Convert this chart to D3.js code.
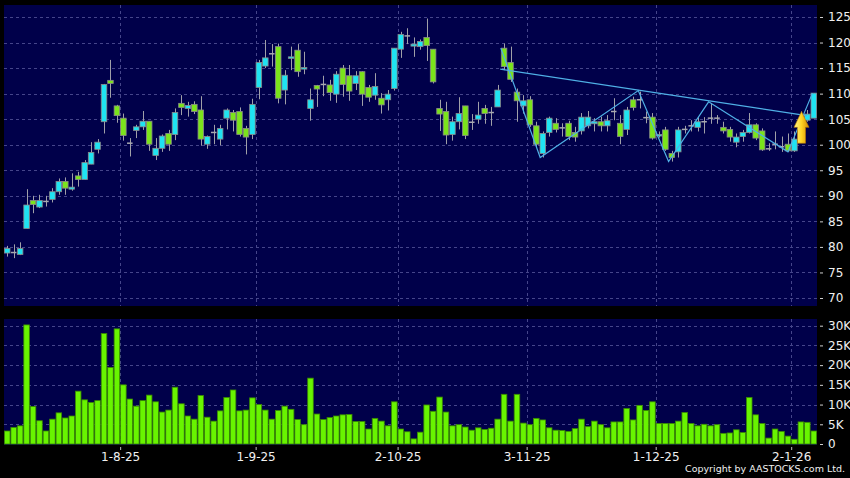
<!DOCTYPE html>
<html>
<head>
<meta charset="utf-8">
<script src="https://cdn.jsdelivr.net/npm/d3@7"></script>
<style>
  html, body { margin: 0; padding: 0; background: #000; }
  svg { display: block; font-family: 'DejaVu Sans', Verdana, sans-serif; }
</style>
</head>
<body>
<div id="chart"></div>
<script>
// daily OHLC, one entry per trading day
const open = [78.8, 78.9, 78.5, 83.6, 89.1, 87.8, 88.9, 89.3, 90.8, 92.8,
  91.3, 93.9, 93.2, 96.2, 99.1, 104.5, 112.6, 107.6, 105.2, 100.3,
  102.8, 103.5, 104.6, 97.9, 99.3, 102.2, 102.0, 108.1, 107.1, 107.9,
  106.8, 100.1, 102.4, 101.1, 105.2, 106.3, 106.5, 103.2, 102.0, 111.2,
  115.4, 117.8, 119.2, 110.7, 117.0, 118.5, 114.8, 107.1, 111.6, 111.8,
  111.7, 109.9, 115.0, 113.5, 112.0, 114.3, 111.2, 109.7, 109.1, 108.8,
  111.0, 118.7, 121.3, 119.3, 119.2, 121.0, 118.7, 107.1, 106.5, 102.0,
  104.5, 107.6, 104.4, 105.0, 107.1, 106.3, 107.4, 118.9, 116.1, 110.3,
  107.6, 108.8, 103.7, 98.3, 102.4, 104.2, 103.3, 104.2, 102.4, 102.7,
  103.7, 104.1, 104.5, 103.7, 106.5, 104.2, 103.0, 108.8, 108.8, 105.3,
  105.4, 101.8, 102.9, 98.3, 98.6, 103.0, 103.7, 103.4, 104.5, 105.2,
  105.2, 103.4, 103.0, 100.5, 101.6, 102.4, 103.9, 102.7, 99.2, 100.1,
  99.6, 100.1, 98.8, 101.0, 104.8, 105.2];
const high = [80.2, 80.5, 80.9, 91.3, 90.0, 90.2, 90.0, 91.5, 93.4, 93.6,
  94.4, 94.7, 97.0, 100.5, 101.1, 111.9, 116.6, 107.8, 106.1, 101.3,
  103.9, 106.6, 104.6, 101.3, 102.0, 102.9, 107.1, 109.7, 108.4, 108.5,
  109.5, 101.8, 103.9, 103.9, 107.1, 106.8, 107.3, 103.7, 109.0, 116.6,
  120.5, 119.7, 119.8, 114.6, 119.2, 119.7, 118.2, 111.0, 111.7, 113.5,
  112.7, 114.4, 115.6, 115.6, 114.4, 114.4, 111.7, 114.0, 110.1, 110.7,
  118.9, 122.1, 122.8, 121.0, 120.6, 124.7, 118.7, 108.8, 108.4, 105.5,
  109.3, 107.6, 106.0, 108.4, 107.8, 107.4, 111.7, 119.8, 119.2, 111.0,
  109.7, 109.5, 104.5, 102.6, 105.5, 105.2, 104.2, 104.7, 103.5, 106.2,
  106.6, 105.2, 105.5, 105.8, 109.1, 105.8, 107.4, 109.4, 110.4, 106.5,
  106.2, 102.6, 103.5, 98.8, 103.5, 103.7, 104.8, 105.4, 105.4, 108.1,
  105.8, 104.5, 103.5, 102.2, 102.9, 106.2, 104.2, 103.2, 100.3, 102.6,
  101.6, 102.2, 102.6, 106.5, 106.8, 110.1];
const low = [78.1, 77.8, 78.4, 83.6, 86.6, 87.6, 87.9, 88.7, 90.2, 90.2,
  91.0, 91.8, 93.2, 96.2, 98.3, 102.2, 109.2, 104.3, 100.8, 97.7,
  101.3, 102.9, 98.8, 97.0, 98.6, 98.8, 100.9, 105.8, 105.5, 106.0,
  99.8, 99.2, 100.1, 99.9, 103.0, 102.6, 101.6, 98.1, 101.1, 108.9,
  115.0, 115.3, 108.1, 107.9, 114.6, 113.3, 113.8, 104.7, 107.4, 109.5,
  108.6, 108.2, 109.4, 108.6, 110.7, 107.6, 108.4, 108.8, 106.1, 106.7,
  110.6, 117.0, 119.7, 117.2, 118.6, 116.4, 112.0, 102.7, 100.1, 100.8,
  103.0, 101.1, 102.9, 104.1, 104.1, 103.7, 107.4, 114.6, 112.3, 104.5,
  106.1, 103.5, 99.5, 97.5, 101.6, 102.4, 101.6, 100.9, 100.6, 102.0,
  103.2, 102.6, 102.6, 102.6, 104.8, 100.1, 101.9, 106.7, 107.1, 104.2,
  101.0, 101.4, 98.8, 96.7, 97.5, 102.2, 102.6, 102.6, 102.2, 104.1,
  104.1, 102.2, 100.6, 99.5, 100.6, 102.2, 100.9, 98.8, 98.8, 99.1,
  98.6, 98.6, 98.6, 100.5, 104.5, 105.2];
const close = [79.7, 78.9, 79.7, 88.2, 88.3, 89.1, 88.9, 90.8, 92.8, 91.5,
  91.7, 93.2, 96.5, 98.5, 100.5, 111.8, 112.0, 105.7, 101.8, 100.3,
  103.5, 104.6, 100.1, 99.3, 101.7, 100.1, 106.3, 107.3, 107.7, 106.5,
  101.1, 101.6, 102.4, 103.2, 106.8, 104.8, 102.0, 101.5, 107.9, 116.1,
  117.0, 117.8, 109.1, 113.6, 117.2, 114.3, 115.1, 108.8, 110.9, 111.8,
  110.2, 113.8, 111.8, 110.5, 113.5, 109.9, 109.3, 111.4, 107.8, 109.9,
  118.9, 121.6, 121.3, 119.7, 120.2, 119.4, 112.3, 106.0, 101.9, 104.5,
  106.1, 101.8, 104.4, 105.8, 106.1, 106.3, 110.7, 115.3, 112.8, 108.6,
  108.6, 103.9, 100.1, 102.2, 105.2, 103.0, 103.3, 101.6, 101.5, 105.4,
  105.4, 104.5, 103.7, 104.7, 106.5, 101.6, 106.8, 107.3, 108.8, 105.3,
  101.3, 102.0, 99.1, 97.5, 102.9, 103.0, 103.7, 104.5, 104.5, 105.2,
  105.2, 102.7, 101.5, 101.5, 102.4, 103.9, 101.3, 99.0, 99.2, 100.1,
  99.6, 98.8, 101.1, 104.6, 106.0, 110.1];
// volume in thousands
const volume = [3.3, 4.2, 4.6, 30.2, 9.5, 5.9, 3.3, 6.3, 7.9, 6.6,
  7.1, 13.4, 11.2, 10.5, 11.0, 28.0, 19.4, 29.2, 15.0, 11.4,
  9.6, 11.0, 12.4, 10.7, 8.1, 8.6, 14.4, 10.2, 7.1, 6.3,
  12.3, 6.8, 5.8, 8.4, 11.8, 13.7, 8.4, 8.6, 11.7, 10.0,
  8.6, 6.3, 8.5, 9.6, 8.8, 6.2, 4.9, 16.7, 7.6, 6.2,
  6.7, 7.1, 7.4, 7.5, 5.7, 5.7, 3.8, 6.5, 5.8, 4.6,
  10.7, 3.8, 3.1, 1.3, 3.0, 9.9, 8.3, 11.9, 8.1, 4.6,
  4.9, 4.3, 3.5, 4.1, 3.7, 4.0, 6.3, 12.6, 5.8, 12.6,
  5.3, 4.9, 6.5, 6.1, 4.1, 3.5, 3.4, 3.2, 3.9, 6.3,
  4.4, 5.8, 4.9, 4.1, 5.6, 5.6, 9.0, 6.1, 9.8, 8.5,
  10.7, 5.2, 5.2, 5.2, 5.8, 8.0, 5.2, 4.6, 5.0, 4.6,
  4.9, 2.7, 2.8, 3.6, 2.9, 11.8, 7.4, 5.2, 1.5, 3.8,
  3.2, 2.0, 1.2, 5.6, 5.5, 3.3];

// month-start labels and the bar they sit on
const dateTicks = [18, 39, 61, 81, 101, 122];
const dateLabels = ['1-8-25', '1-9-25', '2-10-25', '3-11-25', '1-12-25', '2-1-26'];
const priceTicks = [70, 75, 80, 85, 90, 95, 100, 105, 110, 115, 120, 125];
const volumeTicks = [0, 5, 10, 15, 20, 25, 30];

// drawn pattern lines: [bar index, price]
const trendLine = [[76.4, 114.8], [123.9, 105.7]];
const zigzag = [[76.5, 118.9], [82.6, 97.5], [97.8, 110.6], [102.5, 96.7],
  [108.7, 108.4], [121.0, 98.6], [124.8, 110.1]];
const signalArrow = { bar: 123.1, from: 100.3, to: 106.5 };

const W = 850, H = 478;
const left = 4, right = 817;
const pricePanel = { top: 5, bottom: 306 };
const volPanel = { top: 319, bottom: 445 };

const UP = '#1fe3f2', DOWN = '#7be41b', WICK = '#a0a0a8';
const GRID = '#45458a', NAVY = '#00004a';

const svg = d3
  .select('#chart')
  .append('svg')
  .attr('width', W)
  .attr('height', H);

svg.append('rect').attr('width', W).attr('height', H).attr('fill', '#000');

const n = close.length;
const x = d3.scaleLinear().domain([-0.5, n - 0.5]).range([left, right]);
const step = x(1) - x(0);
const bodyW = step * 0.86;

const yPrice = d3.scaleLinear().domain([70, 125]).range([298, 17]);
const yVol = d3.scaleLinear().domain([0, 30]).range([444, 325.7]);

// panels
[pricePanel, volPanel].forEach((p) => {
  svg
    .append('rect')
    .attr('x', left)
    .attr('y', p.top)
    .attr('width', right - left)
    .attr('height', p.bottom - p.top)
    .attr('fill', NAVY);
});

// grid lines
const grid = svg.append('g').attr('stroke', GRID).attr('stroke-dasharray', '3,3').attr('stroke-width', 1);
grid
  .selectAll('.hp')
  .data(priceTicks)
  .enter()
  .append('line')
  .attr('x1', left)
  .attr('x2', right)
  .attr('y1', (d) => Math.round(yPrice(d)) + 0.5)
  .attr('y2', (d) => Math.round(yPrice(d)) + 0.5);
grid
  .selectAll('.hv')
  .data(volumeTicks.filter((d) => d > 0))
  .enter()
  .append('line')
  .attr('x1', left)
  .attr('x2', right)
  .attr('y1', (d) => Math.round(yVol(d)) + 0.5)
  .attr('y2', (d) => Math.round(yVol(d)) + 0.5);
[pricePanel, volPanel].forEach((p) => {
  grid
    .append('g')
    .selectAll('line')
    .data(dateTicks)
    .enter()
    .append('line')
    .attr('x1', (d) => Math.round(x(d - 0.5)) + 0.5)
    .attr('x2', (d) => Math.round(x(d - 0.5)) + 0.5)
    .attr('y1', p.top)
    .attr('y2', p.bottom);
});

// candles
const bars = d3.range(n);
const candle = svg
  .append('g')
  .selectAll('g')
  .data(bars)
  .enter()
  .append('g');
candle
  .append('line')
  .attr('x1', (i) => Math.round(x(i)) + 0.5)
  .attr('x2', (i) => Math.round(x(i)) + 0.5)
  .attr('y1', (i) => yPrice(high[i]))
  .attr('y2', (i) => yPrice(low[i]))
  .attr('stroke', WICK)
  .attr('stroke-width', 1);
candle
  .filter((i) => open[i] !== close[i])
  .append('rect')
  .attr('x', (i) => x(i) - bodyW / 2)
  .attr('width', bodyW)
  .attr('y', (i) => yPrice(Math.max(open[i], close[i])))
  .attr('height', (i) => Math.max(1.5, Math.abs(yPrice(open[i]) - yPrice(close[i]))))
  .attr('fill', (i) => (close[i] > open[i] ? UP : DOWN))
  .attr('stroke', '#8a8a8a')
  .attr('stroke-width', 0.8);
candle
  .filter((i) => open[i] === close[i])
  .append('line')
  .attr('x1', (i) => x(i) - bodyW / 2)
  .attr('x2', (i) => x(i) + bodyW / 2)
  .attr('y1', (i) => yPrice(close[i]))
  .attr('y2', (i) => yPrice(close[i]))
  .attr('stroke', '#a8a8b0')
  .attr('stroke-width', 1.5);

// pattern lines
const line = d3
  .line()
  .x((d) => x(d[0]))
  .y((d) => yPrice(d[1]));
svg
  .append('path')
  .attr('d', line(trendLine))
  .attr('fill', 'none')
  .attr('stroke', '#4fb0e6')
  .attr('stroke-width', 1.2);
svg
  .append('path')
  .attr('d', line(zigzag))
  .attr('fill', 'none')
  .attr('stroke', '#4fb0e6')
  .attr('stroke-width', 1.2);

// signal arrow
const grad = svg
  .append('defs')
  .append('linearGradient')
  .attr('id', 'arrowGrad')
  .attr('x1', 0)
  .attr('x2', 1)
  .attr('y1', 0)
  .attr('y2', 0);
grad.append('stop').attr('offset', '0%').attr('stop-color', '#fff38a');
grad.append('stop').attr('offset', '50%').attr('stop-color', '#ffd424');
grad.append('stop').attr('offset', '100%').attr('stop-color', '#d28a00');
{
  const ax = x(signalArrow.bar);
  const yTop = yPrice(signalArrow.to);
  const yBot = yPrice(signalArrow.from);
  const yNeck = yTop + (yBot - yTop) * 0.5;
  const hw = 7.5, sw = 4;
  svg
    .append('path')
    .attr(
      'd',
      `M${ax},${yTop} L${ax + hw},${yNeck} L${ax + sw},${yNeck} L${ax + sw},${yBot}
       L${ax - sw},${yBot} L${ax - sw},${yNeck} L${ax - hw},${yNeck} Z`,
    )
    .attr('fill', 'url(#arrowGrad)')
    .attr('stroke', '#b87800')
    .attr('stroke-width', 0.6);
}

// volume bars
svg
  .append('g')
  .selectAll('rect')
  .data(bars)
  .enter()
  .append('rect')
  .attr('x', (i) => x(i) - bodyW / 2)
  .attr('width', bodyW)
  .attr('y', (i) => yVol(volume[i]))
  .attr('height', (i) => yVol(0) - yVol(volume[i]))
  .attr('fill', '#68f400')
  .attr('stroke', '#3a8a00')
  .attr('stroke-width', 0.8);

// right axes
const priceAxis = d3
  .axisRight(yPrice)
  .tickValues(priceTicks)
  .tickSize(3)
  .tickPadding(5);
const volAxis = d3
  .axisRight(yVol)
  .tickValues(volumeTicks)
  .tickFormat((d) => (d === 0 ? '0' : d + 'K'))
  .tickSize(3)
  .tickPadding(5);
[svg.append('g').call(priceAxis), svg.append('g').call(volAxis)].forEach((g) => {
  g.attr('transform', `translate(${right + 3},0)`);
  g.select('.domain').remove();
  g.selectAll('.tick line').attr('stroke', '#cfcfcf');
  g.selectAll('.tick text')
    .attr('fill', '#f0f0f0')
    .style('font-family', "'DejaVu Sans', sans-serif")
    .style('font-size', '12px');
});

// bottom date axis
const dateAxis = d3
  .axisBottom(x)
  .tickValues(dateTicks.map((d) => d - 0.5))
  .tickFormat((d, i) => dateLabels[i])
  .tickSize(3)
  .tickPadding(2);
const dg = svg
  .append('g')
  .attr('transform', `translate(0,${volPanel.bottom + 2})`)
  .call(dateAxis);
dg.select('.domain').remove();
dg.selectAll('.tick line').attr('stroke', '#bdbdbd');
dg.selectAll('.tick text')
  .attr('fill', '#f0f0f0')
  .style('font-family', "'DejaVu Sans', sans-serif")
  .style('font-size', '12px');

svg
  .append('text')
  .attr('x', 845)
  .attr('y', 472)
  .attr('text-anchor', 'end')
  .attr('fill', '#f0f0f0')
  .style('font-size', '9.5px')
  .text('Copyright by AASTOCKS.com Ltd.');
</script>
</body>
</html>
